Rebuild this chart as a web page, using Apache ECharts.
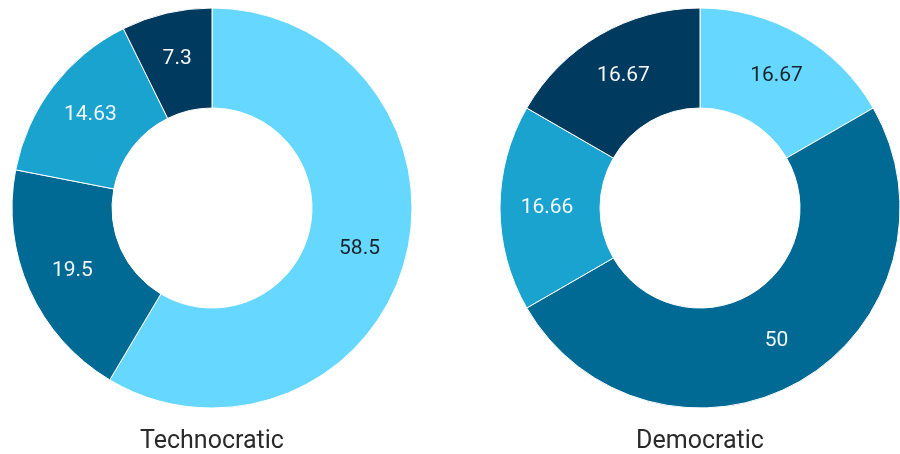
<!DOCTYPE html>
<html>
<head>
<meta charset="utf-8">
<script src="https://cdn.jsdelivr.net/npm/echarts@6/dist/echarts.min.js"></script>
<style>
html,body{margin:0;padding:0;background:#fff;}
#chart{width:900px;height:454px;}
</style>
</head>
<body>
<div id="chart"></div>
<script>
var categories = ['A', 'B', 'C', 'D'];
var technocraticValues = [58.5, 19.5, 14.63, 7.3];
var democraticValues = [16.67, 50, 16.66, 16.67];
var chartTitles = ['Technocratic', 'Democratic'];

var colors = ['#66D8FF', '#006A94', '#1BA3D0', '#003A5E'];
var labelColors = ['#16222c', '#f2f8fb', '#f2f8fb', '#f2f8fb'];

function buildData(values) {
  return values.map(function (v, i) {
    return {
      name: categories[i],
      value: v,
      itemStyle: { color: colors[i] },
      label: { color: labelColors[i] }
    };
  });
}

var chart = echarts.init(document.getElementById('chart'), null, { renderer: 'canvas' });
var labelCommon = {
  show: true,
  position: 'inside',
  formatter: function (p) { return String(p.value); },
  fontFamily: 'Roboto',
  fontSize: 21
};
var titleStyle = { fontFamily: 'Roboto', fontSize: 25, fontWeight: 'normal', color: '#2a2a2a' };
chart.setOption({
  animation: false,
  backgroundColor: '#ffffff',
  title: [
    { text: chartTitles[0], left: 212, top: 429, textAlign: 'center', padding: 0, textStyle: titleStyle },
    { text: chartTitles[1], left: 700, top: 429, textAlign: 'center', padding: 0, textStyle: titleStyle }
  ],
  series: [
    {
      type: 'pie',
      center: [212, 208],
      radius: [100, 200],
      startAngle: 90,
      clockwise: true,
      avoidLabelOverlap: false,
      itemStyle: { borderColor: '#ffffff', borderWidth: 1 },
      label: labelCommon,
      labelLine: { show: false },
      data: buildData(technocraticValues)
    },
    {
      type: 'pie',
      center: [700, 208],
      radius: [100, 200],
      startAngle: 90,
      clockwise: true,
      avoidLabelOverlap: false,
      itemStyle: { borderColor: '#ffffff', borderWidth: 1 },
      label: labelCommon,
      labelLine: { show: false },
      data: buildData(democraticValues)
    }
  ]
});
</script>
</body>
</html>
